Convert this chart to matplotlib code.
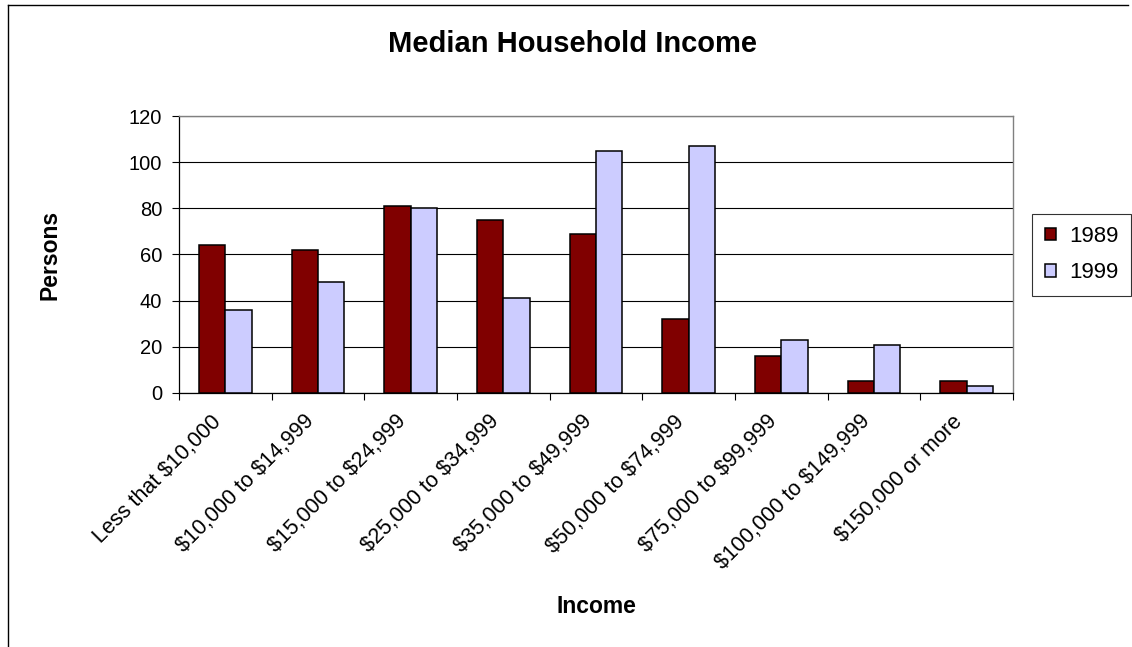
import matplotlib
matplotlib.use("Agg")
import matplotlib.pyplot as plt
import numpy as np
from matplotlib.lines import Line2D

plt.rcParams['font.family'] = ['Liberation Sans', 'DejaVu Sans']
plt.rcParams['text.parse_math'] = False

categories = ["Less that $10,000", "$10,000 to $14,999", "$15,000 to $24,999",
              "$25,000 to $34,999", "$35,000 to $49,999", "$50,000 to $74,999",
              "$75,000 to $99,999", "$100,000 to $149,999", "$150,000 or more"]
persons_1989 = [64, 62, 81, 75, 69, 32, 16, 5, 5]
persons_1999 = [36, 48, 80, 41, 105, 107, 23, 21, 3]
yticks = [0, 20, 40, 60, 80, 100, 120]

fig = plt.figure(figsize=(11.32, 6.47), dpi=100)
ax = fig.add_axes([0.1581, 0.3926, 0.7368, 0.4281])

x = np.arange(len(categories))
w = 1 / 3.5
ax.bar(x - w / 2, persons_1989, w, color="#800000", edgecolor="black", linewidth=1.1,
       label="1989", zorder=3)
ax.bar(x + w / 2, persons_1999, w, color="#CCCCFF", edgecolor="black", linewidth=1.1,
       label="1999", zorder=3)

ax.set_xlim(-0.5, len(categories) - 0.5)
ax.set_ylim(0, 120)
ax.set_yticks(yticks)
ax.yaxis.grid(True, color="black", linewidth=0.8, zorder=0)
ax.tick_params(axis="y", direction="out", length=5, width=0.8, labelsize=14.5, pad=7)

# category labels at centres, tick marks between categories
ax.set_xticks(x)
ax.set_xticklabels(categories, rotation=45, ha="right", fontsize=15.5)
ax.tick_params(axis="x", which="major", length=0, pad=13)
ax.set_xticks(np.arange(-0.5, len(categories)), minor=True)
ax.tick_params(axis="x", which="minor", direction="out", length=5, width=0.8)

for s in ["top", "right"]:
    ax.spines[s].set_color("#808080")
    ax.spines[s].set_linewidth(1.0)
for s in ["left", "bottom"]:
    ax.spines[s].set_color("black")
    ax.spines[s].set_linewidth(0.9)

fig.text(0.5057, 0.920, "Median Household Income", ha="center", va="baseline",
         fontsize=21, fontweight="bold")
fig.text(596 / 1132, 0.053, "Income", ha="center", va="baseline",
         fontsize=16.5, fontweight="bold")
fig.text(0.0445, ax.get_position().y0 + ax.get_position().height / 2, "Persons",
         rotation=90, ha="center", va="center", fontsize=16.5, fontweight="bold")

leg = ax.legend(loc="center", bbox_to_anchor=(0.9555, 0.6066),
                bbox_transform=fig.transFigure, fontsize=16, frameon=True,
                fancybox=False, handlelength=0.5, handleheight=0.5,
                handletextpad=0.6, labelspacing=0.7, borderpad=0.55)
leg.get_frame().set_edgecolor("black")
leg.get_frame().set_linewidth(0.8)

# chart area border (top and left visible)
fig.add_artist(Line2D([8 / 1132, 1128 / 1132], [1 - 5 / 647, 1 - 5 / 647],
                      transform=fig.transFigure, color="black", linewidth=1.0))
fig.add_artist(Line2D([8 / 1132, 8 / 1132], [1 - 5 / 647, 0],
                      transform=fig.transFigure, color="black", linewidth=1.0))

fig.savefig("out.png", dpi=100)
